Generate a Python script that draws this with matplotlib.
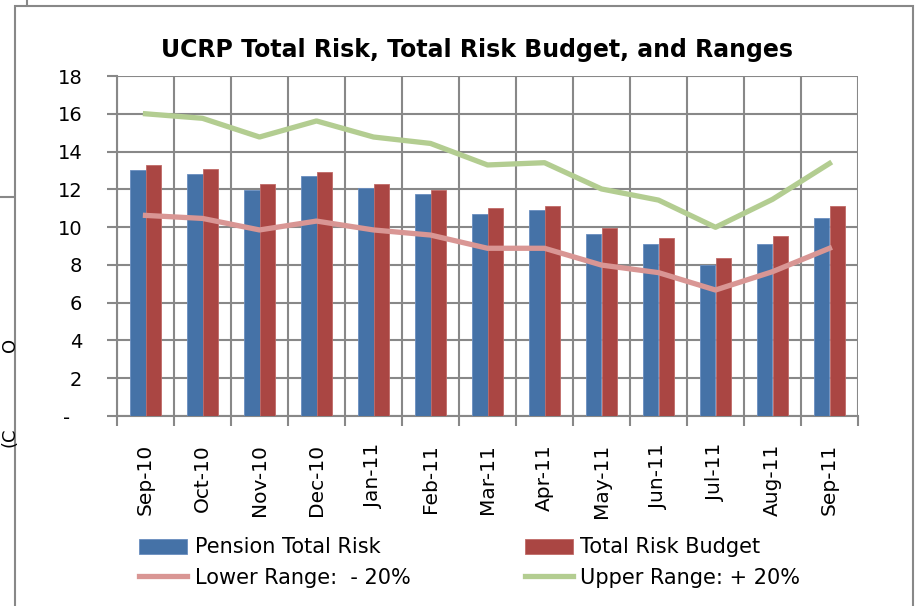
import numpy as np
import matplotlib
matplotlib.use("Agg")
from matplotlib import pyplot as plt
from matplotlib.lines import Line2D
from matplotlib.patches import Rectangle

months = ['Sep-10', 'Oct-10', 'Nov-10', 'Dec-10', 'Jan-11', 'Feb-11', 'Mar-11',
          'Apr-11', 'May-11', 'Jun-11', 'Jul-11', 'Aug-11', 'Sep-11']
pension_risk = [13.0, 12.8, 11.95, 12.7, 12.05, 11.75, 10.7, 10.9, 9.65, 9.1, 7.97, 9.1, 10.47]
risk_budget = [13.3, 13.1, 12.3, 12.9, 12.3, 11.95, 11.0, 11.1, 9.95, 9.42, 8.35, 9.52, 11.1]
lower_range = [10.62, 10.46, 9.85, 10.32, 9.85, 9.58, 8.88, 8.88, 7.99, 7.59, 6.67, 7.64, 8.88]
upper_range = [16.0, 15.76, 14.77, 15.62, 14.77, 14.43, 13.29, 13.41, 12.02, 11.43, 9.99, 11.47, 13.37]

yticks = [0, 2, 4, 6, 8, 10, 12, 14, 16, 18]
ytick_labels = ['-  ', '2', '4', '6', '8', '10', '12', '14', '16', '18']

blue = '#4572A7'
red = '#AA4643'
pink = '#D99694'
green = '#B3CD91'
grid_col = '#888888'

fig = plt.figure(figsize=(9.17, 6.06), dpi=100)
ax = fig.add_axes([117/917, 190/606, 741/917, 340/606])

x = np.arange(len(months))
w = 0.28
b1 = ax.bar(x - w/2, pension_risk, w, color=blue, edgecolor='#6A8EC0', linewidth=0.6,
            label='Pension Total Risk', zorder=3)
b2 = ax.bar(x + w/2, risk_budget, w, color=red, edgecolor='#C06A67', linewidth=0.6,
            label='Total Risk Budget', zorder=3)
l1, = ax.plot(x, lower_range, color=pink, lw=3.8, label='Lower Range:  - 20%', zorder=4)
l2, = ax.plot(x, upper_range, color=green, lw=3.8, label='Upper Range: + 20%', zorder=4)

ax.set_xlim(-0.5, len(months) - 0.5)
ax.set_ylim(0, 18)
ax.set_yticks(yticks)
ax.set_yticklabels(ytick_labels, fontsize=14)
ax.set_xticks(x)
ax.set_xticklabels(months, rotation=90, fontsize=14.5)
ax.set_xticks(np.arange(-0.5, len(months)), minor=True)

ax.tick_params(axis='y', which='major', length=7, width=1.5, color=grid_col, pad=18)
ax.tick_params(axis='x', which='major', length=0, pad=20)
ax.tick_params(axis='x', which='minor', length=7, width=1.5, color=grid_col)

ax.grid(axis='y', which='major', color=grid_col, lw=1.5, zorder=0)
ax.grid(axis='x', which='minor', color=grid_col, lw=1.5, zorder=0)
for side in ['top', 'right']:
    ax.spines[side].set_visible(False)
ax.spines['left'].set_color(grid_col)
ax.spines['left'].set_linewidth(1.5)
ax.spines['bottom'].set_color(grid_col)
ax.spines['bottom'].set_linewidth(1.5)

fig.text(477/917, 1 - 50/606, 'UCRP Total Risk, Total Risk Budget, and Ranges',
         ha='center', va='center', fontsize=17, fontweight='bold')

# order so that bars fill the first row and lines the second
fig.legend([b1, l1, b2, l2], [b1.get_label(), l1.get_label(), b2.get_label(), l2.get_label()],
           loc='upper left', bbox_to_anchor=(129/917, 1 - 527/606), ncol=2,
           frameon=False, fontsize=15, handlelength=2.3, handleheight=0.75,
           handletextpad=0.35, columnspacing=5.5, labelspacing=0.5, borderpad=0)

# outer chart frame and screenshot leftovers
fig.add_artist(Rectangle((15/917, -0.05), 898/917, 1.05 - 6/606, transform=fig.transFigure,
                         fill=False, edgecolor=grid_col, lw=1.5))
fig.add_artist(Line2D([27/917, 27/917], [1 - 5/606, 1.0], transform=fig.transFigure,
                      color=grid_col, lw=1.5))
fig.add_artist(Line2D([0, 14/917], [1 - 197/606, 1 - 197/606], transform=fig.transFigure,
                      color=grid_col, lw=1.5))
fig.text(1/917, 1 - 345/606, 'O', rotation=90, ha='left', va='center', fontsize=13)
fig.text(1/917, 1 - 437/606, '(C', rotation=90, ha='left', va='center', fontsize=13)

fig.savefig('out.png', dpi=100)
